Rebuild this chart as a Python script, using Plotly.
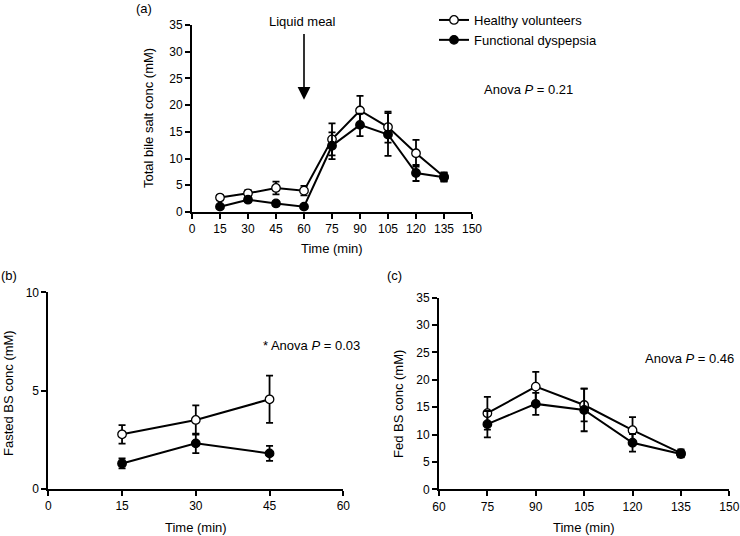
import plotly.graph_objects as go

W, H = 740, 536

# ---------------- data ----------------
time_a = [15, 30, 45, 60, 75, 90, 105, 120, 135]
hv_a = [2.7, 3.5, 4.5, 4.0, 13.6, 19.0, 15.9, 11.0, 6.6]
hv_a_err = [0.5, 0.6, 1.2, 0.9, 3.0, 2.75, 2.9, 2.5, 0.8]
fd_a = [1.0, 2.3, 1.6, 1.0, 12.4, 16.3, 14.5, 7.3, 6.5]
fd_a_err = [0.3, 0.4, 0.4, 0.3, 2.5, 2.1, 4.0, 1.5, 0.8]

time_b = [15, 30, 45]
hv_b = [2.78, 3.51, 4.56]
hv_b_err = [0.47, 0.74, 1.2]
fd_b = [1.3, 2.32, 1.81]
fd_b_err = [0.25, 0.5, 0.38]

time_c = [75, 90, 105, 120, 135]
hv_c = [13.9, 18.75, 15.4, 10.8, 6.6]
hv_c_err = [3.0, 2.7, 3.0, 2.4, 0.7]
fd_c = [11.9, 15.6, 14.5, 8.5, 6.45]
fd_c_err = [2.4, 2.0, 3.9, 1.6, 0.6]

ticks_a = [0, 15, 30, 45, 60, 75, 90, 105, 120, 135, 150]
ticks_b = [0, 15, 30, 45, 60]
ticks_c = [60, 75, 90, 105, 120, 135, 150]

FONT = "Liberation Sans, Arial, sans-serif"
TXT = 13
TICK = 12


def px(x):
    return x / W


def py(y):
    return 1 - y / H


fig = go.Figure()


def add_series(x, y, err, xa, ya, name, filled, show):
    fig.add_trace(go.Scatter(
        x=x, y=y, xaxis=xa, yaxis=ya, name=name, showlegend=show,
        mode="lines+markers",
        line=dict(color="black", width=2),
        marker=dict(symbol="circle", size=8.5,
                    color="black" if filled else "white",
                    line=dict(color="black", width=1.3)),
        error_y=dict(type="data", array=err, visible=True, color="black",
                     thickness=1.8, width=3.5),
        cliponaxis=False,
    ))


add_series(time_a, hv_a, hv_a_err, "x", "y", "Healthy volunteers", False, True)
add_series(time_a, fd_a, fd_a_err, "x", "y", "Functional dyspepsia", True, True)
add_series(time_b, hv_b, hv_b_err, "x2", "y2", "Healthy volunteers", False, False)
add_series(time_b, fd_b, fd_b_err, "x2", "y2", "Functional dyspepsia", True, False)
add_series(time_c, hv_c, hv_c_err, "x3", "y3", "Healthy volunteers", False, False)
add_series(time_c, fd_c, fd_c_err, "x3", "y3", "Functional dyspepsia", True, False)

axis_common = dict(
    showline=True, linecolor="black", linewidth=1.8, ticks="outside",
    ticklen=5, tickwidth=1.5, tickcolor="black", showgrid=False,
    zeroline=False, tickfont=dict(family=FONT, size=TICK, color="black"),
    ticklabeloverflow="allow", automargin=False,
)

fig.update_layout(
    template="none",
    width=W, height=H, margin=dict(l=0, r=0, t=0, b=0),
    paper_bgcolor="white", plot_bgcolor="white",
    font=dict(family=FONT, size=TXT, color="black"),
    xaxis=dict(domain=[px(192), px(472)], range=[0, 150], tickvals=ticks_a,
               anchor="y", **axis_common),
    yaxis=dict(domain=[py(212), py(25)], range=[0, 35], dtick=5, anchor="x",
               **axis_common),
    xaxis2=dict(domain=[px(48.3), px(343.3)], range=[0, 60], tickvals=ticks_b,
                anchor="y2", **axis_common),
    yaxis2=dict(domain=[py(489), py(292.3)], range=[0, 10], tickvals=[0, 5, 10],
                anchor="x2", **axis_common),
    xaxis3=dict(domain=[px(439), px(729.3)], range=[60, 150], tickvals=ticks_c,
                anchor="y3", **axis_common),
    yaxis3=dict(domain=[py(489.3), py(297.7)], range=[0, 35], dtick=5,
                anchor="x3", **axis_common),
    legend=dict(x=px(434), y=py(5), xanchor="left", yanchor="top",
                font=dict(family=FONT, size=TXT, color="black"),
                bgcolor="rgba(0,0,0,0)", itemwidth=30, tracegroupgap=0),
    showlegend=True,
)

annos = [
    dict(text="(a)", x=px(134), y=py(8), xanchor="left"),
    dict(text="(b)", x=px(-1), y=py(275), xanchor="left"),
    dict(text="(c)", x=px(385), y=py(275), xanchor="left"),
    dict(text="Liquid meal", x=px(302), y=py(22), xanchor="center"),
    dict(text="Anova <i>P</i> = 0.21", x=px(482), y=py(90), xanchor="left"),
    dict(text="* Anova <i>P</i> = 0.03", x=px(261), y=py(345), xanchor="left"),
    dict(text="Anova <i>P</i> = 0.46", x=px(643), y=py(358), xanchor="left"),
    # axis titles
    dict(text="Time (min)", x=px(332), y=py(248), xanchor="center"),
    dict(text="Time (min)", x=px(196), y=py(527), xanchor="center"),
    dict(text="Time (min)", x=px(584), y=py(527), xanchor="center"),
    dict(text="Total bile salt conc (mM)", x=px(148), y=py(118), xanchor="center", textangle=-90),
    dict(text="Fasted BS conc (mM)", x=px(8), y=py(393), xanchor="center", textangle=-90),
    dict(text="Fed BS conc (mM)", x=px(398), y=py(404), xanchor="center", textangle=-90),
]
for a in annos:
    fig.add_annotation(xref="paper", yref="paper", showarrow=False,
                       yanchor="middle", font=dict(family=FONT, size=TXT, color="black"), **a)

# Arrow marking the liquid meal at t = 60 min
fig.add_annotation(x=60, y=21, xref="x", yref="y", ax=60, ay=33.6, axref="x", ayref="y",
                   text="", showarrow=True, arrowhead=2, arrowsize=1.6, arrowwidth=1.6,
                   arrowcolor="black")

fig.write_html("out.html", config={"displayModeBar": False},
               post_script="document.body.style.margin='0';document.body.style.overflow='hidden';")
